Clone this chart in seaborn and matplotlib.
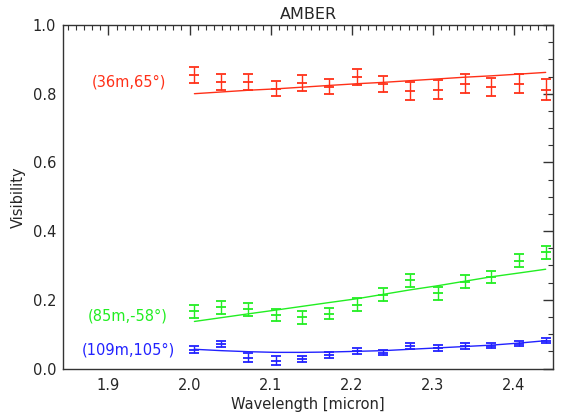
import matplotlib
matplotlib.use("Agg")
import matplotlib.pyplot as plt
from matplotlib.ticker import MultipleLocator
import seaborn as sns
import pandas as pd

wavelength = [2.006, 2.039, 2.072, 2.106, 2.139, 2.172, 2.206,
              2.239, 2.272, 2.306, 2.339, 2.372, 2.406, 2.439]

# measured visibilities and errors
vis_36 = [0.854, 0.834, 0.834, 0.815, 0.832, 0.820, 0.849,
          0.829, 0.808, 0.812, 0.829, 0.820, 0.829, 0.812]
err_36 = [0.023, 0.022, 0.023, 0.021, 0.023, 0.022, 0.023,
          0.023, 0.025, 0.027, 0.027, 0.026, 0.028, 0.030]
vis_85 = [0.166, 0.178, 0.173, 0.156, 0.149, 0.160, 0.185,
          0.215, 0.257, 0.219, 0.253, 0.267, 0.314, 0.338]
err_85 = [0.019, 0.019, 0.019, 0.018, 0.019, 0.017, 0.019,
          0.019, 0.019, 0.019, 0.019, 0.018, 0.019, 0.019]
vis_109 = [0.055, 0.071, 0.032, 0.023, 0.027, 0.040, 0.051,
           0.046, 0.065, 0.060, 0.066, 0.066, 0.072, 0.081]
err_109 = [0.011, 0.008, 0.012, 0.013, 0.009, 0.008, 0.008,
           0.008, 0.009, 0.008, 0.008, 0.007, 0.007, 0.007]

# model curves
model_36 = [0.800, 0.805, 0.810, 0.814, 0.819, 0.824, 0.829,
            0.833, 0.838, 0.843, 0.848, 0.852, 0.857, 0.862]
model_85 = [0.137, 0.148, 0.159, 0.170, 0.181, 0.192, 0.203,
            0.216, 0.229, 0.241, 0.254, 0.267, 0.278, 0.289]
model_109 = [0.056, 0.052, 0.049, 0.047, 0.047, 0.048, 0.050,
             0.052, 0.056, 0.060, 0.064, 0.068, 0.074, 0.081]

baselines = ["(36m,65°)", "(85m,-58°)", "(109m,105°)"]
colors = ["#ff3018", "#22ee22", "#2222ff"]
label_pos = [(1.879, 0.833), (1.874, 0.154), (1.867, 0.055)]

sns.set_style("white")
plt.rcParams["font.family"] = ["DejaVu Sans"]

rows = []
for name, model in zip(baselines, [model_36, model_85, model_109]):
    for w, m in zip(wavelength, model):
        rows.append({"wavelength": w, "model": m, "baseline": name})
models = pd.DataFrame(rows)

fig = plt.figure(figsize=(5.61, 4.2), dpi=100)
ax = fig.add_axes([0.1123, 0.1226, 0.8734, 0.8179])

sns.lineplot(data=models, x="wavelength", y="model", hue="baseline",
             palette=dict(zip(baselines, colors)), linewidth=1.0,
             legend=False, ax=ax)

for vis, err, c in zip([vis_36, vis_85, vis_109], [err_36, err_85, err_109], colors):
    ax.errorbar(wavelength, vis, yerr=err, fmt="_", color=c, ecolor=c,
                elinewidth=1.0, capsize=3.5, capthick=1.0, markersize=7,
                markeredgewidth=1.3)

for name, (lx, ly), c in zip(baselines, label_pos, colors):
    ax.text(lx, ly, name, color=c, fontsize=10.5, va="center", ha="left")

ax.set_xlim(1.844, 2.448)
ax.set_ylim(0.0, 1.0)
ax.xaxis.set_major_locator(MultipleLocator(0.1))
ax.xaxis.set_minor_locator(MultipleLocator(0.01))
ax.yaxis.set_major_locator(MultipleLocator(0.2))
ax.yaxis.set_minor_locator(MultipleLocator(0.05))
ax.xaxis.set_major_formatter(plt.FormatStrFormatter("%.1f"))
ax.yaxis.set_major_formatter(plt.FormatStrFormatter("%.1f"))
ax.tick_params(which="both", direction="in", top=True, right=True,
               color="#333333", labelsize=10.5, pad=7)
ax.tick_params(axis="y", which="both", pad=5)
ax.tick_params(which="major", length=7, width=1)
ax.tick_params(which="minor", length=3.5, width=0.8)
for s in ax.spines.values():
    s.set_color("#333333")
    s.set_linewidth(1.0)

ax.set_xlabel("Wavelength [micron]", fontsize=10.5, labelpad=3)
ax.set_ylabel("Visibility", fontsize=10.5, labelpad=5)
ax.set_title("AMBER", fontsize=11.5, pad=4)

fig.savefig("out.png", dpi=100)
